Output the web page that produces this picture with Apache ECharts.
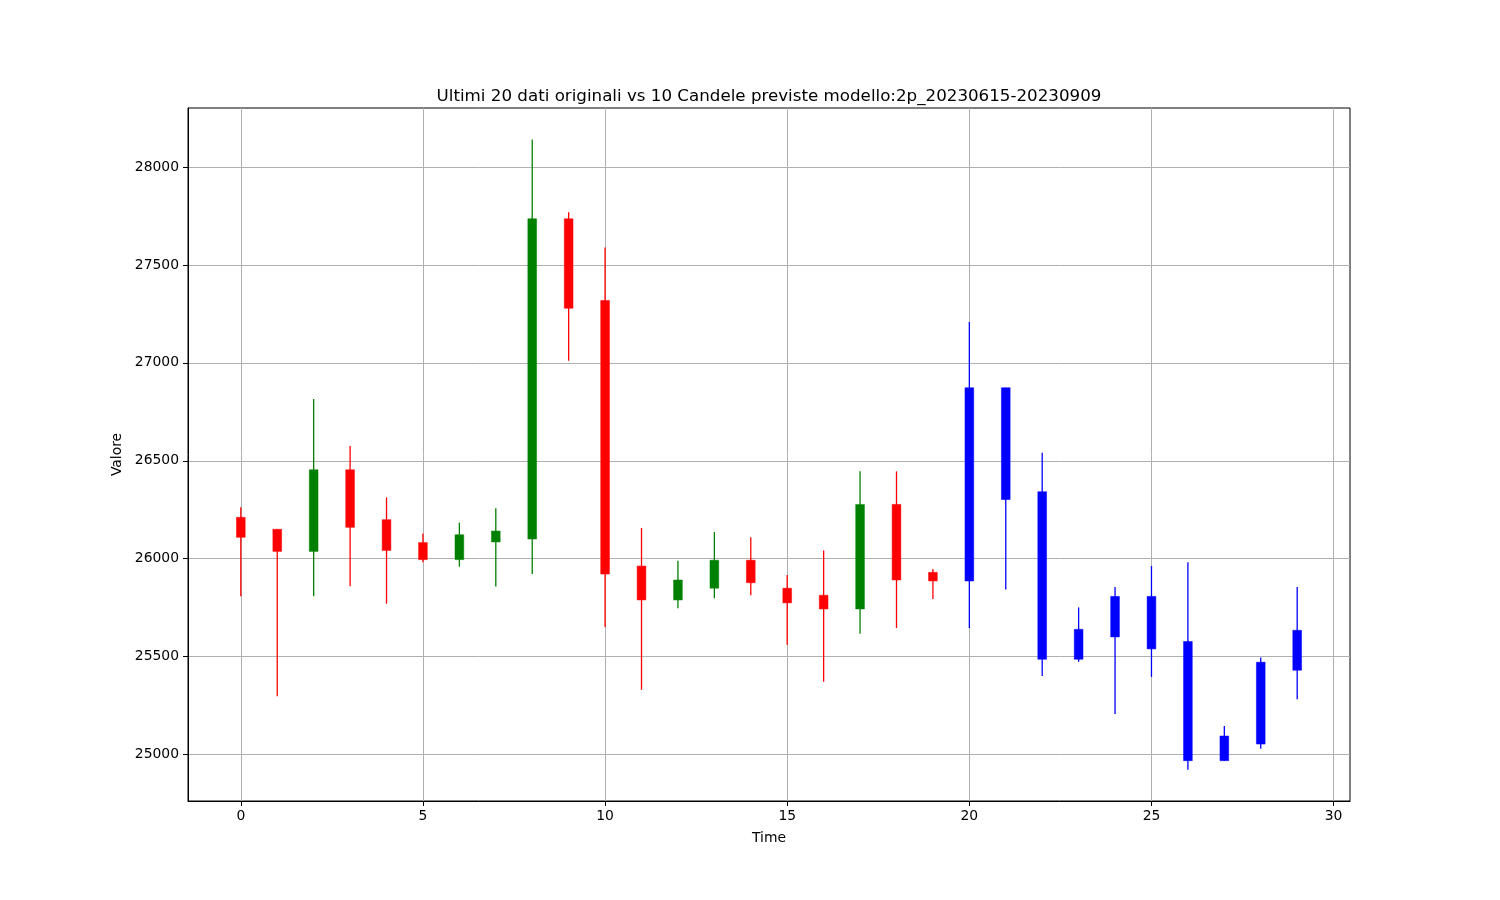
<!DOCTYPE html>
<html>
<head>
<meta charset="utf-8">
<script src="https://cdn.jsdelivr.net/npm/echarts@6/dist/echarts.min.js"></script>
<style>html,body{margin:0;padding:0;background:#fff;}#c{width:1500px;height:900px;}</style>
</head>
<body>
<div id="c"></div>
<script>
// Original data (last 20 candles)
const origX = [0,1,2,3,4,5,6,7,8,9,10,11,12,13,14,15,16,17,18,19];
const origOpen  = [26211,26150,26037,26454,26199,26082,25995,26085,26100,27736,27319,25962,25789,25849,25992,25849,25813,25743,26277,25930];
const origClose = [26109,26037,26454,26160,26042,25995,26122,26141,27736,27279,25921,25789,25891,25992,25877,25774,25743,26277,25891,25886];
const origLow   = [25808,25297,25808,25859,25770,25981,25959,25858,25921,27011,25651,25330,25747,25798,25813,25560,25371,25616,25646,25794];
const origHigh  = [26262,26150,26816,26576,26313,26128,26184,26258,28141,27770,27590,26157,25989,26136,26109,25917,26042,26446,26446,25947];

// Forecast (10 candles)
const predX = [20,21,22,23,24,25,26,27,28,29];
const predOpen  = [25886,26873,26342,25486,25600,25807,25577,24968,25053,25430];
const predClose = [26873,26302,25486,25639,25807,25539,24968,25094,25471,25634];
const predLow   = [25646,25843,25401,25473,25206,25396,24922,24968,25029,25282];
const predHigh  = [27209,26873,26541,25751,25855,25962,25981,25145,25495,25855];

const xTicks = [0,5,10,15,20,25,30];
const yTicks = [25000,25500,26000,26500,27000,27500,28000];

function build(xs, o, c, l, h) {
  return xs.map((x, i) => [x, o[i], c[i], l[i], h[i]]);
}

const BODY_W = 0.24; // body width in x-data units
function makeRender(upColor, downColor) {
  return function (params, api) {
    const x = api.value(0), o = api.value(1), c = api.value(2), l = api.value(3), h = api.value(4);
    const pO = api.coord([x, o]), pC = api.coord([x, c]);
    const pL = api.coord([x, l]), pH = api.coord([x, h]);
    const w = api.size([BODY_W, 0])[0];
    const col = c >= o ? upColor : downColor;
    const top = Math.min(pO[1], pC[1]);
    const hgt = Math.max(Math.abs(pO[1] - pC[1]), 1);
    return {
      type: 'group',
      children: [
        {type: 'line', shape: {x1: pH[0], y1: pH[1], x2: pL[0], y2: pL[1]},
         style: {stroke: col, lineWidth: 1.3}},
        {type: 'rect', shape: {x: pO[0] - w / 2, y: top, width: w, height: hgt},
         style: {fill: col, stroke: col, lineWidth: 0.5}}
      ]
    };
  };
}

const font = 'DejaVu Sans';
const chart = echarts.init(document.getElementById('c'), null, {renderer: 'canvas'});
chart.setOption({
  animation: false,
  backgroundColor: '#ffffff',
  title: {
    text: 'Ultimi 20 dati originali vs 10 Candele previste modello:2p_20230615-20230909',
    left: 764, top: 83, textAlign: 'center',
    textStyle: {fontFamily: font, fontSize: 16.7, fontWeight: 'normal', color: '#000'}
  },
  grid: {left: 188, right: 150, top: 108, bottom: 99, show: true, borderColor: '#000', borderWidth: 1, backgroundColor: '#fff'},
  xAxis: {
    type: 'value', min: -1.45, max: 30.45,
    name: 'Time', nameLocation: 'middle', nameGap: 30,
    nameTextStyle: {fontFamily: font, fontSize: 13.9, color: '#000'},
    axisLine: {show: true, onZero: false, lineStyle: {color: '#000', width: 1}},
    axisTick: {show: true, length: 5, lineStyle: {color: '#000', width: 1}, customValues: xTicks},
    axisLabel: {fontFamily: font, fontSize: 13.9, color: '#000', margin: 8, customValues: xTicks, formatter: v => String(v)},
    splitLine: {show: true, lineStyle: {color: '#b0b0b0', width: 1}}
  },
  yAxis: {
    type: 'value', min: 24762, max: 28302,
    name: 'Valore', nameLocation: 'middle', nameGap: 62, nameRotate: 90,
    nameTextStyle: {fontFamily: font, fontSize: 13.9, color: '#000'},
    axisLine: {show: true, onZero: false, lineStyle: {color: '#000', width: 1}},
    axisTick: {show: true, length: 5, lineStyle: {color: '#000', width: 1}, customValues: yTicks},
    axisLabel: {fontFamily: font, fontSize: 13.9, color: '#000', margin: 9, customValues: yTicks, formatter: v => String(v)},
    splitLine: {show: true, lineStyle: {color: '#b0b0b0', width: 1}}
  },
  series: [
    {
      type: 'custom', name: 'orig',
      data: build(origX, origOpen, origClose, origLow, origHigh),
      encode: {x: 0, y: [1, 2, 3, 4]},
      renderItem: makeRender('#008000', '#ff0000')
    },
    {
      type: 'custom', name: 'pred',
      data: build(predX, predOpen, predClose, predLow, predHigh),
      encode: {x: 0, y: [1, 2, 3, 4]},
      renderItem: makeRender('#0000ff', '#0000ff')
    }
  ]
});
</script>
</body>
</html>
